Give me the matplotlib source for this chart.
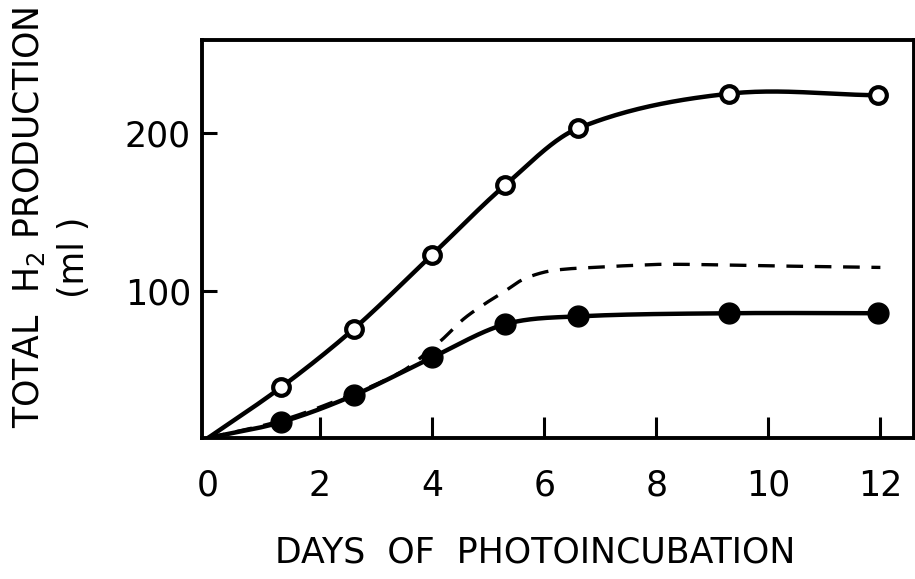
import numpy as np
import matplotlib
matplotlib.use("Agg")
import matplotlib.pyplot as plt

plt.rcParams['font.family'] = ['DejaVu Sans']
plt.rcParams['mathtext.default'] = 'regular'

# Data
days_pts = [1.3, 2.6, 4.0, 5.3, 6.6, 9.3, 11.95]
open_vals = [39, 76, 123, 167, 203, 225, 224]
closed_vals = [17, 34, 58, 79, 84, 86, 86]
start_day = 0.0
start_val = 7

dash_days = [0.0, 1.3, 2.6, 3.5, 4.0, 4.2, 4.55, 4.9, 5.3, 5.6, 6.0, 6.4, 6.9, 7.4, 8.2, 10.0, 12.0]
dash_vals = [7, 18, 35, 50, 64, 70, 82, 91, 100, 107, 112, 114, 115, 116, 117, 116, 115]

xticks = [0, 2, 4, 6, 8, 10, 12]
yticks = [100, 200]


def smooth(xs, ys, n=40):
    """Cubic Hermite curve y(x) through the given points (drawing only)."""
    x = np.asarray(xs, float)
    y = np.asarray(ys, float)
    m = np.empty_like(y)
    m[1:-1] = (y[2:] - y[:-2]) / (x[2:] - x[:-2])
    m[0] = (y[1] - y[0]) / (x[1] - x[0])
    m[-1] = (y[-1] - y[-2]) / (x[-1] - x[-2])
    ox, oy = [], []
    for i in range(len(x) - 1):
        h = x[i + 1] - x[i]
        t = np.linspace(0, 1, n, endpoint=False)
        h00 = 2 * t ** 3 - 3 * t ** 2 + 1
        h10 = t ** 3 - 2 * t ** 2 + t
        h01 = -2 * t ** 3 + 3 * t ** 2
        h11 = t ** 3 - t ** 2
        ox.append(x[i] + t * h)
        oy.append(h00 * y[i] + h10 * h * m[i] + h01 * y[i + 1] + h11 * h * m[i + 1])
    ox.append([x[-1]])
    oy.append([y[-1]])
    return np.concatenate(ox), np.concatenate(oy)


fig = plt.figure(figsize=(9.15, 5.79), dpi=100)
ax = fig.add_axes([202 / 915, 1 - 438 / 579, (914 - 202) / 915, (438 - 40) / 579])

ax.set_xlim(-0.107, 12.6)
ax.set_ylim(7, 259)

lw = 3.2
# open circles curve
sx, sy = smooth([start_day] + days_pts, [start_val] + open_vals)
ax.plot(sx, sy, color='black', lw=lw, solid_capstyle='round', zorder=2)
ax.plot(days_pts, open_vals, 'o', ms=12, mfc='white', mec='black', mew=3, zorder=3)

# filled circles curve
sx, sy = smooth([start_day] + days_pts, [start_val] + closed_vals)
ax.plot(sx, sy, color='black', lw=lw, solid_capstyle='round', zorder=2)
ax.plot(days_pts, closed_vals, 'o', ms=15, mfc='black', mec='black', zorder=3)

# dashed curve
sx, sy = smooth(dash_days, dash_vals)
ax.plot(sx, sy, color='black', lw=2.4, dashes=(5, 3.5), zorder=1)

ax.set_xticks(xticks)
ax.set_yticks(yticks)
ax.set_xticklabels([str(v) for v in xticks])
ax.set_yticklabels([str(v) for v in yticks])
ax.tick_params(axis='x', direction='in', length=15, width=2.2, pad=22, labelsize=25)
ax.tick_params(axis='y', direction='in', length=11, width=2.2, pad=8, labelsize=25)
ax.xaxis.get_major_ticks()[0].tick1line.set_visible(False)
for s in ax.spines.values():
    s.set_linewidth(2.8)

fig.text(0.032, 0.625, 'TOTAL  H$_2$ PRODUCTION', rotation=90, ha='center', va='center',
         fontsize=25)
fig.text(0.081, 0.556, '(ml )', rotation=90, ha='center', va='center', fontsize=25)
fig.text(0.585, 0.045, 'DAYS  OF  PHOTOINCUBATION', ha='center', va='center', fontsize=25)

fig.savefig('out.png', dpi=100)
